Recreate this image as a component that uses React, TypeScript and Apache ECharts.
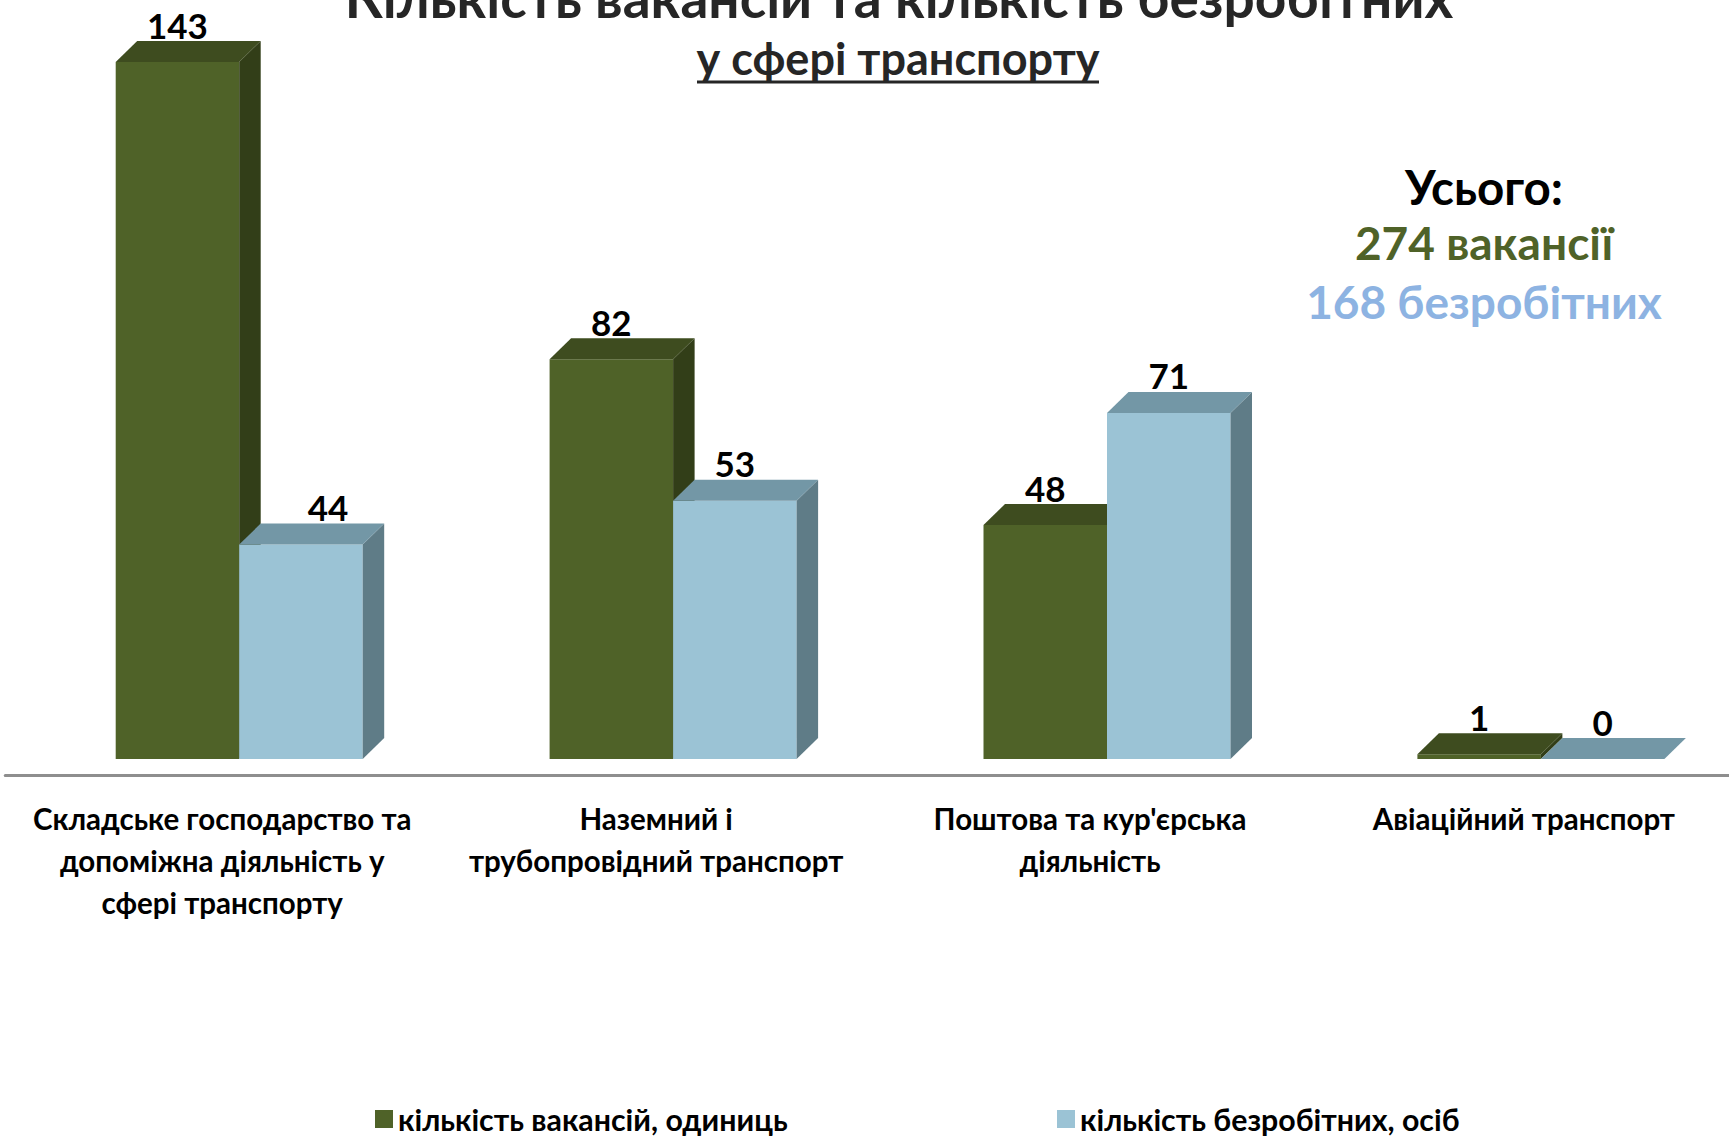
import React, { useEffect, useRef } from "react";
import * as echarts from "echarts";

// ---- data ----
const categories = [
  "Складське господарство та\nдопоміжна діяльність у\nсфері транспорту",
  "Наземний і\nтрубопровідний транспорт",
  "Поштова та кур'єрська\nдіяльність",
  "Авіаційний транспорт",
];
const vacancies = [143, 82, 48, 1];
const unemployed = [44, 53, 71, 0];
const seriesNames = ["кількість вакансій, одиниць", "кількість безробітних, осіб"];
const titleLines = ["Кількість вакансій та кількість безробітних", "у сфері транспорту"];
const totalsLines = ["Усього:", "274 вакансії", "168 безробітних"];

// ---- styles ----
const FONT = "Lato, 'Noto Sans', sans-serif";
const FACE = [
  { front: "#4F6228", top: "#3E4C1F", side: "#323E18" },
  { front: "#9BC3D5", top: "#7397A6", side: "#5F7C87" },
];
const BAR_OFFSET = [-106.5, 17.0]; // front-face left edge relative to category centre
const BAR_W = 123.5;
const DX = 21.5;
const DY = 21;
const LABEL_SHIFT: Record<string, number> = { "1-0": 27 };

function renderBox(params: any, api: any) {
  const s = params.seriesIndex;
  const i = api.value(0);
  const v = api.value(1);
  const base = api.coord([i, 0]);
  const top = api.coord([i, v]);
  const x0 = base[0] + BAR_OFFSET[s];
  const x1 = x0 + BAR_W;
  const by = base[1];
  const ty = top[1];
  const c = FACE[s];
  const shift = LABEL_SHIFT[s + "-" + i] || 0;
  return {
    type: "group",
    children: [
      {
        type: "rect",
        shape: { x: x0, y: ty, width: BAR_W, height: Math.max(by - ty, 0) },
        style: { fill: c.front },
      },
      {
        type: "polygon",
        shape: { points: [[x1, ty], [x1 + DX, ty - DY], [x1 + DX, by - DY], [x1, by]] },
        style: { fill: c.side },
      },
      {
        type: "polygon",
        shape: { points: [[x0, ty], [x0 + DX, ty - DY], [x1 + DX, ty - DY], [x1, ty]] },
        style: { fill: c.top },
      },
      {
        type: "text",
        style: {
          text: String(v),
          x: (x0 + x1) / 2 + shift,
          y: ty - DY + 1,
          align: "center",
          verticalAlign: "bottom",
          fontSize: 35,
          fontWeight: "bold",
          fontFamily: FONT,
          fill: "#000",
        },
      },
    ],
  };
}

export default function App() {
  const ref = useRef<HTMLDivElement>(null);
  useEffect(() => {
    if (!ref.current) return;
    const chart = echarts.init(ref.current, undefined, { renderer: "svg" });
    const legendText = { fontSize: 30.3, fontWeight: "bold", fontFamily: FONT, color: "#000" };
    chart.setOption({
      animation: false,
      backgroundColor: "#fff",
      grid: {
        left: 5.25,
        width: 1735.6,
        top: 27.9,
        bottom: 379,
        containLabel: false,
        outerBoundsMode: "none",
      },
      xAxis: {
        type: "category",
        data: categories,
        offset: 16,
        axisLine: { show: true, onZero: false, lineStyle: { color: "#8E8E8E", width: 3 } },
        axisTick: { show: false },
        axisLabel: {
          interval: 0,
          margin: 22,
          color: "#000",
          fontSize: 29.5,
          fontWeight: "bold",
          fontFamily: FONT,
          lineHeight: 42,
        },
      },
      yAxis: { type: "value", min: 0, max: 150, show: false, splitLine: { show: false } },
      legend: [
        {
          data: [seriesNames[0]],
          left: 375,
          top: 1104,
          padding: 0,
          icon: "rect",
          itemWidth: 18,
          itemHeight: 18,
          textStyle: legendText,
          selectedMode: false,
        },
        {
          data: [seriesNames[1]],
          left: 1057,
          top: 1104,
          padding: 0,
          icon: "rect",
          itemWidth: 18,
          itemHeight: 18,
          textStyle: legendText,
          selectedMode: false,
        },
      ],
      series: [
        {
          type: "custom",
          name: seriesNames[0],
          data: vacancies.map((v, i) => [i, v]),
          renderItem: renderBox,
          itemStyle: { color: FACE[0].front },
          clip: false,
        },
        {
          type: "custom",
          name: seriesNames[1],
          data: unemployed.map((v, i) => [i, v]),
          renderItem: renderBox,
          itemStyle: { color: FACE[1].front },
          clip: false,
        },
      ],
      graphic: [
        {
          type: "text",
          x: 899,
          y: -3,
          style: {
            text: titleLines[0],
            align: "center",
            verticalAlign: "middle",
            fontSize: 55,
            fontWeight: "bold",
            fontFamily: FONT,
            fill: "#262626",
          },
        },
        {
          type: "text",
          x: 898,
          y: 58,
          style: {
            text: titleLines[1],
            align: "center",
            verticalAlign: "middle",
            fontSize: 45,
            fontWeight: "bold",
            fontFamily: FONT,
            fill: "#262626",
          },
        },
        {
          type: "line",
          shape: { x1: 697, y1: 82, x2: 1099, y2: 82 },
          style: { stroke: "#262626", lineWidth: 3 },
        },
        {
          type: "text",
          x: 1484,
          y: 186,
          style: {
            text: totalsLines[0],
            align: "center",
            verticalAlign: "middle",
            fontSize: 47.5,
            fontWeight: "bold",
            fontFamily: FONT,
            fill: "#000",
          },
        },
        {
          type: "text",
          x: 1484,
          y: 242,
          style: {
            text: totalsLines[1],
            align: "center",
            verticalAlign: "middle",
            fontSize: 46,
            fontWeight: "bold",
            fontFamily: FONT,
            fill: "#4F6228",
          },
        },
        {
          type: "text",
          x: 1484,
          y: 301,
          style: {
            text: totalsLines[2],
            align: "center",
            verticalAlign: "middle",
            fontSize: 46,
            fontWeight: "bold",
            fontFamily: FONT,
            fill: "#8DB3E2",
          },
        },
      ],
    });
    return () => chart.dispose();
  }, []);
  return (
    <div
      ref={ref}
      style={{ position: "fixed", left: 0, top: 0, width: 1729, height: 1138 }}
    />
  );
}
